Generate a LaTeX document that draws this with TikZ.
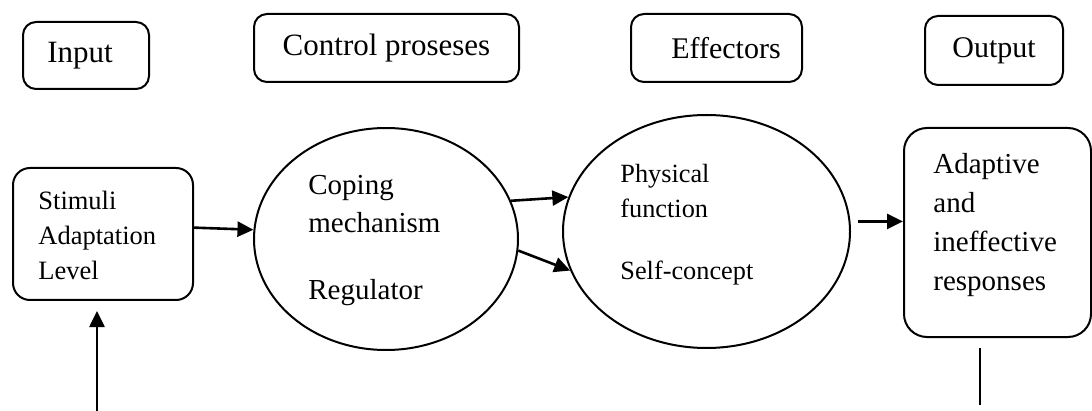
\documentclass[tikz,border=0pt]{standalone}
\usepackage{fontspec}
\setmainfont{Liberation Serif}
\usetikzlibrary{arrows.meta}
\usetikzlibrary{shapes.geometric}

\tikzset{
	head/.style = {draw, line width = 1pt, rounded corners = 6.5pt, minimum height = 34pt, inner sep = 0pt, font = \fontsize{15}{18}\selectfont},
	frame/.style = {draw, line width = 1pt, inner sep = 0pt},
	oval/.style = {draw, ellipse, line width = 1pt, inner sep = 0pt},
	words/.style = {anchor = west, align = left, inner sep = 0pt},
	arr/.style = {line width = 1.3pt, -{Triangle[length = 8pt, width = 7.5pt]}},
}

\begin{document}
\begin{tikzpicture}[x = 0.5pt, y = -0.5pt]
	\useasboundingbox (0, 0) rectangle (1092, 411);

	\node[head, minimum width = 63pt, minimum height = 33.5pt, font = \fontsize{15.5}{18}\selectfont] (inp) at (86, 55.5) {Input\kern6pt};
	\node[head, minimum width = 132.5pt, font = \fontsize{15.5}{18}\selectfont] (ctrl) at (386.5, 48) {Control proseses};
	\node[head, minimum width = 85.5pt] (effh) at (716.5, 48) {\kern9.5pt Effectors};
	\node[head, minimum width = 69pt, minimum height = 34.5pt] (outh) at (994, 50.5) {Output};

	\node[frame, rounded corners = 8.5pt, minimum width = 90pt, minimum height = 66pt] (stim) at (103, 234) {};
	\node[words, font = \fontsize{13.25}{17.5}\selectfont] (stimtxt) at (38, 235) {Stimuli\\Adaptation\\Level};

	\node[oval, minimum width = 132pt, minimum height = 111pt] (cope) at (386, 239) {};
	\node[words, font = \fontsize{14.5}{19}\selectfont] (copetxt) at (308, 240.8) {Coping\\mechanism\\[14.5pt]Regulator};

	\node[oval, minimum width = 143.5pt, minimum height = 116.5pt] (eff) at (706.5, 231.5) {};
	\node[words, font = \fontsize{13.15}{17.5}\selectfont] (efftxt) at (620, 224.4) {Physical\\function\\[13.5pt]Self-concept};

	\node[frame, rounded corners = 11.5pt, minimum width = 93.5pt, minimum height = 104.5pt] (resp) at (997.5, 232.5) {};
	\node[words, font = \fontsize{14.5}{19.5}\selectfont] (resptxt) at (933, 224.8) {Adaptive\\and\\ineffective\\responses};

	\coordinate (inbot) at (97, 411);
	\coordinate (outbot) at (980, 405);
	\draw[arr] (stim.4) -- (cope.176);
	\draw[arr] (cope.17) -- (eff.166);
	\draw[arr] (cope.-5) -- (eff.196);
	\draw[arr, shorten <= 4pt] (eff.4) -- (eff.4 -| resp.west);
	\draw[arr, shorten >= 5pt] (inbot) -- (inbot |- stim.south);
	\draw[line width = 1pt, shorten <= 5pt] (outbot |- resp.south) -- (outbot);
\end{tikzpicture}
\end{document}
